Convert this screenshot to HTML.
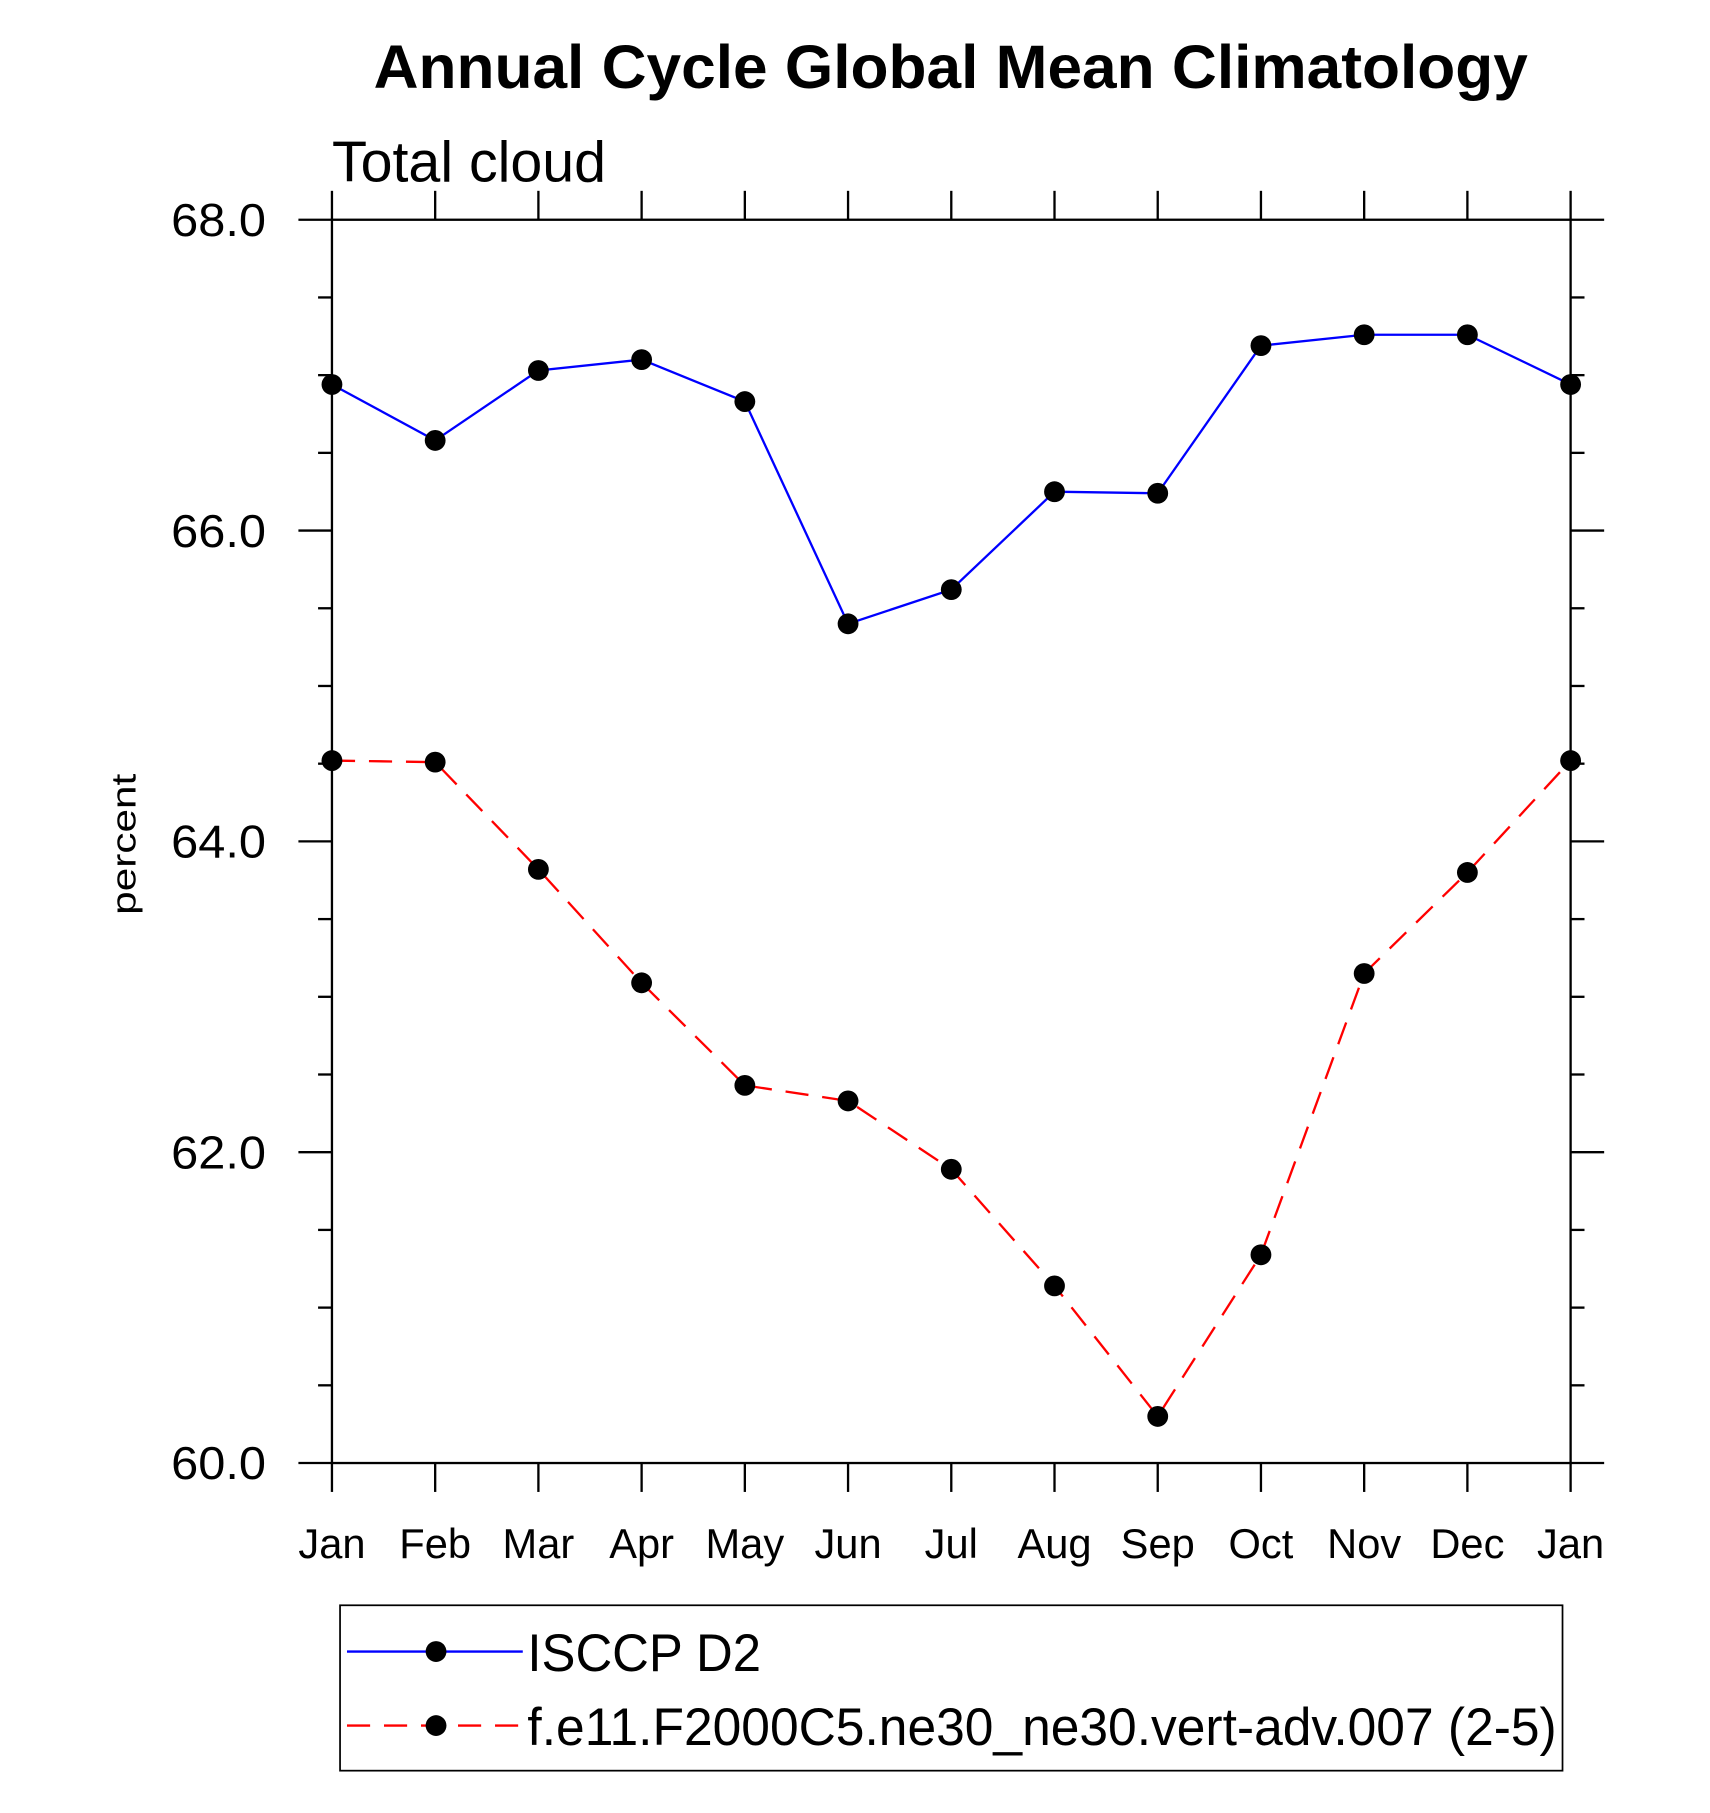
<!DOCTYPE html>
<html><head><meta charset="utf-8"><style>
html,body{margin:0;padding:0;background:#fff;}
svg{display:block;}
text{font-family:"Liberation Sans",sans-serif;fill:#000;}
</style></head><body>
<svg id="chart" width="1710" height="1813" viewBox="0 0 1478.5 1567.6" xmlns="http://www.w3.org/2000/svg">
<text x="822" y="76" text-anchor="middle" font-size="53" font-weight="bold" textLength="998" lengthAdjust="spacingAndGlyphs">Annual Cycle Global Mean Climatology</text>
<text x="287" y="157" font-size="50" textLength="237" lengthAdjust="spacingAndGlyphs">Total cloud</text>
<text transform="translate(117,730) rotate(-90)" text-anchor="middle" font-size="30" textLength="122" lengthAdjust="spacingAndGlyphs">percent</text>
<g id="axes"></g>
<g id="series"></g>
<g>
<rect x="294" y="1388" width="1057" height="143" fill="none" stroke="#000" stroke-width="1.5"/>
<line x1="300" y1="1428" x2="452" y2="1428" stroke="#0000ff" stroke-width="2"/>
<circle cx="377" cy="1428" r="9"/>
<text x="456" y="1445" font-size="46" textLength="202" lengthAdjust="spacingAndGlyphs">ISCCP D2</text>
<line x1="300" y1="1492" x2="452" y2="1492" stroke="#ff0000" stroke-width="2" stroke-dasharray="20,12"/>
<circle cx="377" cy="1492" r="9"/>
<text x="456" y="1509" font-size="46" textLength="890" lengthAdjust="spacingAndGlyphs">f.e11.F2000C5.ne30_ne30.vert-adv.007 (2-5)</text>
</g>
</svg>
<script>
const months = ["Jan","Feb","Mar","Apr","May","Jun","Jul","Aug","Sep","Oct","Nov","Dec","Jan"];
const isccpValues = [66.94, 66.58, 67.03, 67.10, 66.83, 65.40, 65.62, 66.25, 66.24, 67.19, 67.26, 67.26, 66.94];
const modelValues = [64.52, 64.51, 63.82, 63.09, 62.43, 62.33, 61.89, 61.14, 60.30, 61.34, 63.15, 63.80, 64.52];
const yTickLabels = ["60.0","62.0","64.0","66.0","68.0"];
const yMin = 60, yMax = 68;

const NS = "http://www.w3.org/2000/svg";
const L = 287, R = 1358, T = 190, B = 1265;
function xs(i){ return L + (R-L)*i/(months.length-1); }
function ys(v){ return B - (B-T)*(v-yMin)/(yMax-yMin); }
function mk(tag, attrs, parent){ const e=document.createElementNS(NS,tag); for(const k in attrs) e.setAttribute(k,attrs[k]); parent.appendChild(e); return e; }

const axes = document.getElementById('axes');
const frame = mk('rect',{x:L,y:T,width:R-L,height:B-T,fill:'none',stroke:'#000','stroke-width':2},axes);


months.forEach((m,i)=>{
  const x = xs(i);
  mk('line',{x1:x,y1:B,x2:x,y2:B+25,stroke:'#000','stroke-width':2},axes);
  mk('line',{x1:x,y1:T,x2:x,y2:T-25,stroke:'#000','stroke-width':2},axes);
  const t = mk('text',{x:x,y:1347,'text-anchor':'middle','font-size':36},axes);
  t.textContent = m;
  
  
});
for(let v=yMin; v<=yMax+1e-9; v+=0.5){
  const y = ys(v);
  const major = Math.abs(v - Math.round(v/2)*2) < 1e-9;
  const len = major ? 29 : 12;
  mk('line',{x1:L-len,y1:y,x2:L,y2:y,stroke:'#000','stroke-width':2},axes);
  mk('line',{x1:R,y1:y,x2:R+len,y2:y,stroke:'#000','stroke-width':2},axes);
}
yTickLabels.forEach(lbl=>{
  const v = parseFloat(lbl);
  const t = mk('text',{x:230,y:ys(v)+14,'text-anchor':'end','font-size':40,textLength:82,lengthAdjust:'spacingAndGlyphs'},axes);
  t.textContent = lbl;
  
  
});

const series = document.getElementById('series');
function draw(vals, color, dash, name){
  const pts = vals.map((v,i)=>xs(i)+','+ys(v)).join(' ');
  const pl = mk('polyline',{points:pts,fill:'none',stroke:color,'stroke-width':2},series);
  if(dash) pl.setAttribute('stroke-dasharray',dash);
  
  
  vals.forEach((v,i)=>{
    const c = mk('circle',{cx:xs(i),cy:ys(v),r:9,fill:'#000'},series);
    
    
  });
}
draw(isccpValues,'#0000ff',null,'isccp');
draw(modelValues,'#ff0000','20,12','model');
</script>
</body></html>
